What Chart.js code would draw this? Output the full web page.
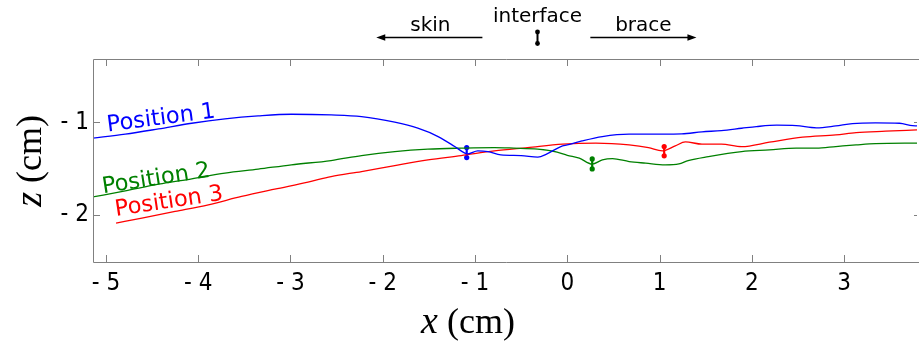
<!DOCTYPE html>
<html>
<head>
<meta charset="utf-8">
<script src="https://cdn.jsdelivr.net/npm/chart.js@4/dist/chart.umd.min.js"></script>
<style>
  html, body { margin: 0; padding: 0; background: #fff; }
  #wrap { width: 921px; height: 345px; position: relative; }
</style>
</head>
<body>
<div id="wrap"><canvas id="c" width="921" height="345"></canvas></div>
<script>
// ---------- data (x in cm, z in cm) ----------
const xTicks = [-5, -4, -3, -2, -1, 0, 1, 2, 3];
const zTicks = [-2, -1];

const pos1X = [-5.15,-4.79,-4.43,-4.07,-3.71,-3.35,-2.99,-2.56,-2.23,-1.87,-1.62,-1.40,-1.22,-1.11,-1.08,-0.97,-0.86,-0.72,-0.50,-0.32,-0.22,-0.07,0.00,0.16,0.38,0.67,1.03,1.24,1.46,1.67,1.89,2.05,2.27,2.48,2.70,2.91,3.09,3.34,3.60,3.74,3.79];
const pos1Z = [-1.170,-1.127,-1.070,-1.009,-0.962,-0.930,-0.912,-0.919,-0.937,-0.998,-1.063,-1.153,-1.261,-1.332,-1.340,-1.307,-1.315,-1.351,-1.358,-1.375,-1.340,-1.261,-1.243,-1.200,-1.153,-1.127,-1.127,-1.124,-1.102,-1.088,-1.063,-1.045,-1.030,-1.035,-1.059,-1.038,-1.013,-1.005,-1.009,-1.035,-1.038];

const pos2X = [-5.15,-4.79,-4.43,-4.07,-3.71,-3.35,-2.99,-2.56,-2.23,-1.87,-1.51,-1.15,-0.79,-0.58,-0.32,-0.11,0.00,0.13,0.27,0.38,0.49,0.67,0.85,1.06,1.21,1.31,1.53,1.89,2.19,2.48,2.70,2.91,3.13,3.34,3.79];
const pos2Z = [-1.807,-1.739,-1.667,-1.609,-1.548,-1.505,-1.458,-1.412,-1.358,-1.315,-1.289,-1.278,-1.272,-1.278,-1.289,-1.321,-1.355,-1.386,-1.451,-1.405,-1.391,-1.423,-1.440,-1.458,-1.448,-1.412,-1.369,-1.315,-1.297,-1.278,-1.278,-1.261,-1.243,-1.229,-1.224];

const pos3X = [-4.89,-4.61,-4.25,-3.89,-3.53,-3.17,-2.81,-2.56,-2.23,-1.87,-1.51,-1.15,-0.79,-0.43,-0.05,0.31,0.67,0.88,1.03,1.17,1.28,1.46,1.67,1.89,2.19,2.55,2.91,3.13,3.45,3.79];
const pos3Z = [-2.087,-2.033,-1.962,-1.890,-1.800,-1.721,-1.645,-1.585,-1.531,-1.466,-1.405,-1.358,-1.307,-1.272,-1.235,-1.224,-1.243,-1.272,-1.307,-1.254,-1.210,-1.235,-1.235,-1.261,-1.214,-1.160,-1.135,-1.110,-1.095,-1.081];

// interface markers for each position: x, z top, z bottom
const markX    = [-1.09, 0.27, 1.05];
const markZTop = [-1.272, -1.394, -1.261];
const markZBot = [-1.380, -1.502, -1.361];

const seriesNames  = ['Position 1', 'Position 2', 'Position 3'];
const seriesColors = ['#0000ff', '#008000', '#ff0000'];

// region annotations above the plot (x in cm)
const skinArrow  = [-0.92, -2.07];
const braceArrow = [0.25, 1.40];
const interfaceX = -0.33;

// ---------- build ----------
const toPts = (xs, zs) => xs.map((x, i) => ({ x: x, y: zs[i] }));
const lines = [[pos1X, pos1Z], [pos2X, pos2Z], [pos3X, pos3Z]];

const datasets = [];
lines.forEach((l, i) => {
  datasets.push({
    label: seriesNames[i],
    data: toPts(l[0], l[1]),
    borderColor: seriesColors[i],
    backgroundColor: seriesColors[i],
    borderWidth: 1.3,
    pointRadius: 0,
    cubicInterpolationMode: 'monotone',
    fill: false
  });
});
markX.forEach((x, i) => {
  datasets.push({
    label: seriesNames[i] + ' interface',
    data: [{ x: x, y: markZTop[i] }, { x: x, y: markZBot[i] }],
    borderColor: seriesColors[i],
    backgroundColor: seriesColors[i],
    borderWidth: 2.2,
    pointRadius: 2.6,
    pointBorderWidth: 0,
    pointStyle: 'circle',
    fill: false
  });
});

const FRAME = '#808080';

function fmt(v) { return v < 0 ? '- ' + Math.abs(v) : String(v); }

function arrowHead(ctx, x, y, dir) {
  ctx.beginPath();
  ctx.moveTo(x, y);
  ctx.lineTo(x - dir * 9, y - 3.2);
  ctx.lineTo(x - dir * 9, y + 3.2);
  ctx.closePath();
  ctx.fill();
}

const deco = {
  id: 'deco',
  afterDraw(chart) {
    const ctx = chart.ctx;
    const a = chart.chartArea;
    const xs = chart.scales.x, ys = chart.scales.y;
    ctx.save();
    // frame
    ctx.strokeStyle = FRAME;
    ctx.lineWidth = 1;
    ctx.beginPath();
    ctx.moveTo(Math.round(a.left) + 0.5, Math.round(a.top) + 0.5);
    ctx.lineTo(Math.round(a.left) + 0.5, Math.round(a.bottom) + 0.5);
    ctx.lineTo(a.right + 2, Math.round(a.bottom) + 0.5);
    ctx.moveTo(Math.round(a.left) + 0.5, Math.round(a.top) + 0.5);
    ctx.lineTo(a.right + 2, Math.round(a.top) + 0.5);
    ctx.stroke();
    // inward ticks
    const tl = 7;
    ctx.beginPath();
    xTicks.forEach(v => {
      const px = Math.round(xs.getPixelForValue(v)) + 0.5;
      ctx.moveTo(px, a.bottom); ctx.lineTo(px, a.bottom - tl);
      ctx.moveTo(px, a.top); ctx.lineTo(px, a.top + tl);
    });
    zTicks.forEach(v => {
      const py = Math.round(ys.getPixelForValue(v)) + 0.5;
      ctx.moveTo(a.left, py); ctx.lineTo(a.left + tl, py);
      ctx.moveTo(a.right, py); ctx.lineTo(a.right - tl + 4, py);
    });
    ctx.stroke();

    // axis titles
    ctx.fillStyle = '#000';
    ctx.textBaseline = 'alphabetic';
    const serifI = 'italic 38px "Liberation Serif", "DejaVu Serif", serif';
    const serifR = '36px "Liberation Serif", "DejaVu Serif", serif';
    // x title
    ctx.font = serifI; const wX = ctx.measureText('x').width;
    ctx.font = serifR; const wR = ctx.measureText(' (cm)').width;
    const cx = 468 - (wX + wR) / 2;
    ctx.font = serifI; ctx.fillText('x', cx, 333);
    ctx.font = serifR; ctx.fillText(' (cm)', cx + wX, 333);
    // y title
    ctx.save();
    ctx.translate(41, 161);
    ctx.rotate(-Math.PI / 2);
    ctx.font = serifI; const wZ = ctx.measureText('z').width;
    ctx.font = serifR; const wR2 = ctx.measureText(' (cm)').width;
    const sx = -(wZ + wR2) / 2;
    ctx.font = serifI; ctx.fillText('z', sx, 0);
    ctx.font = serifR; ctx.fillText(' (cm)', sx + wZ, 0);
    ctx.restore();

    // series labels along the curves (anchored in data units)
    const lab = [
      { x: -4.98, z: -1.097, ang: 7.4 },
      { x: -5.03, z: -1.765, ang: 8.8 },
      { x: -4.89, z: -2.010, ang: 8.6 }
    ];
    ctx.font = '22.5px "DejaVu Sans", sans-serif';
    lab.forEach((l, i) => {
      ctx.save();
      ctx.translate(xs.getPixelForValue(l.x), ys.getPixelForValue(l.z));
      ctx.rotate(-l.ang * Math.PI / 180);
      ctx.fillStyle = seriesColors[i];
      ctx.textAlign = 'left';
      ctx.fillText(seriesNames[i], 0, 0);
      ctx.restore();
    });

    // top region annotations
    ctx.fillStyle = '#000';
    ctx.strokeStyle = '#000';
    ctx.lineWidth = 1.4;
    const ay = 37.5;
    const s0 = xs.getPixelForValue(skinArrow[0]), s1 = xs.getPixelForValue(skinArrow[1]);
    const b0 = xs.getPixelForValue(braceArrow[0]), b1 = xs.getPixelForValue(braceArrow[1]);
    ctx.beginPath();
    ctx.moveTo(s0, ay); ctx.lineTo(s1 + 4, ay);
    ctx.moveTo(b0, ay); ctx.lineTo(b1 - 4, ay);
    ctx.stroke();
    arrowHead(ctx, s1, ay, -1);
    arrowHead(ctx, b1, ay, 1);
    const ix = Math.round(xs.getPixelForValue(interfaceX)) + 0.5;
    ctx.lineWidth = 2;
    ctx.beginPath(); ctx.moveTo(ix, 32); ctx.lineTo(ix, 43); ctx.stroke();
    ctx.beginPath(); ctx.arc(ix, 32, 2.4, 0, Math.PI * 2); ctx.fill();
    ctx.beginPath(); ctx.arc(ix, 43.5, 2.4, 0, Math.PI * 2); ctx.fill();

    ctx.font = '20px "DejaVu Sans", sans-serif';
    ctx.textAlign = 'center';
    ctx.textBaseline = 'alphabetic';
    ctx.fillText('skin', (s0 + s1) / 2 + 1, 31);
    ctx.fillText('interface', ix, 22);
    ctx.fillText('brace', (b0 + b1) / 2, 31);
    ctx.restore();
  }
};

new Chart(document.getElementById('c'), {
  type: 'line',
  data: { datasets: datasets },
  options: {
    responsive: false,
    animation: false,
    devicePixelRatio: 1,
    layout: { padding: { top: 59, left: 0, right: 0, bottom: 0 } },
    plugins: { legend: { display: false }, tooltip: { enabled: false } },
    scales: {
      x: {
        type: 'linear',
        min: -5.14, max: 3.79,
        afterBuildTicks: s => { s.ticks = xTicks.map(v => ({ value: v })); },
        afterFit: s => { s.height = 83; },
        grid: { display: false },
        border: { display: false },
        ticks: {
          autoSkip: false, maxRotation: 0, padding: -1,
          color: '#000',
          font: { family: '"Liberation Sans Narrow", "DejaVu Sans Condensed", "DejaVu Sans"', size: 24 },
          callback: v => fmt(v)
        }
      },
      y: {
        type: 'linear',
        min: -2.508, max: -0.315,
        afterBuildTicks: s => { s.ticks = zTicks.map(v => ({ value: v })); },
        afterFit: s => { s.width = 93; },
        grid: { display: false },
        border: { display: false },
        ticks: {
          autoSkip: false, padding: -4,
          color: '#000',
          font: { family: '"Liberation Sans Narrow", "DejaVu Sans Condensed", "DejaVu Sans"', size: 24 },
          callback: v => fmt(v)
        }
      }
    }
  },
  plugins: [deco]
});
</script>
</body>
</html>
